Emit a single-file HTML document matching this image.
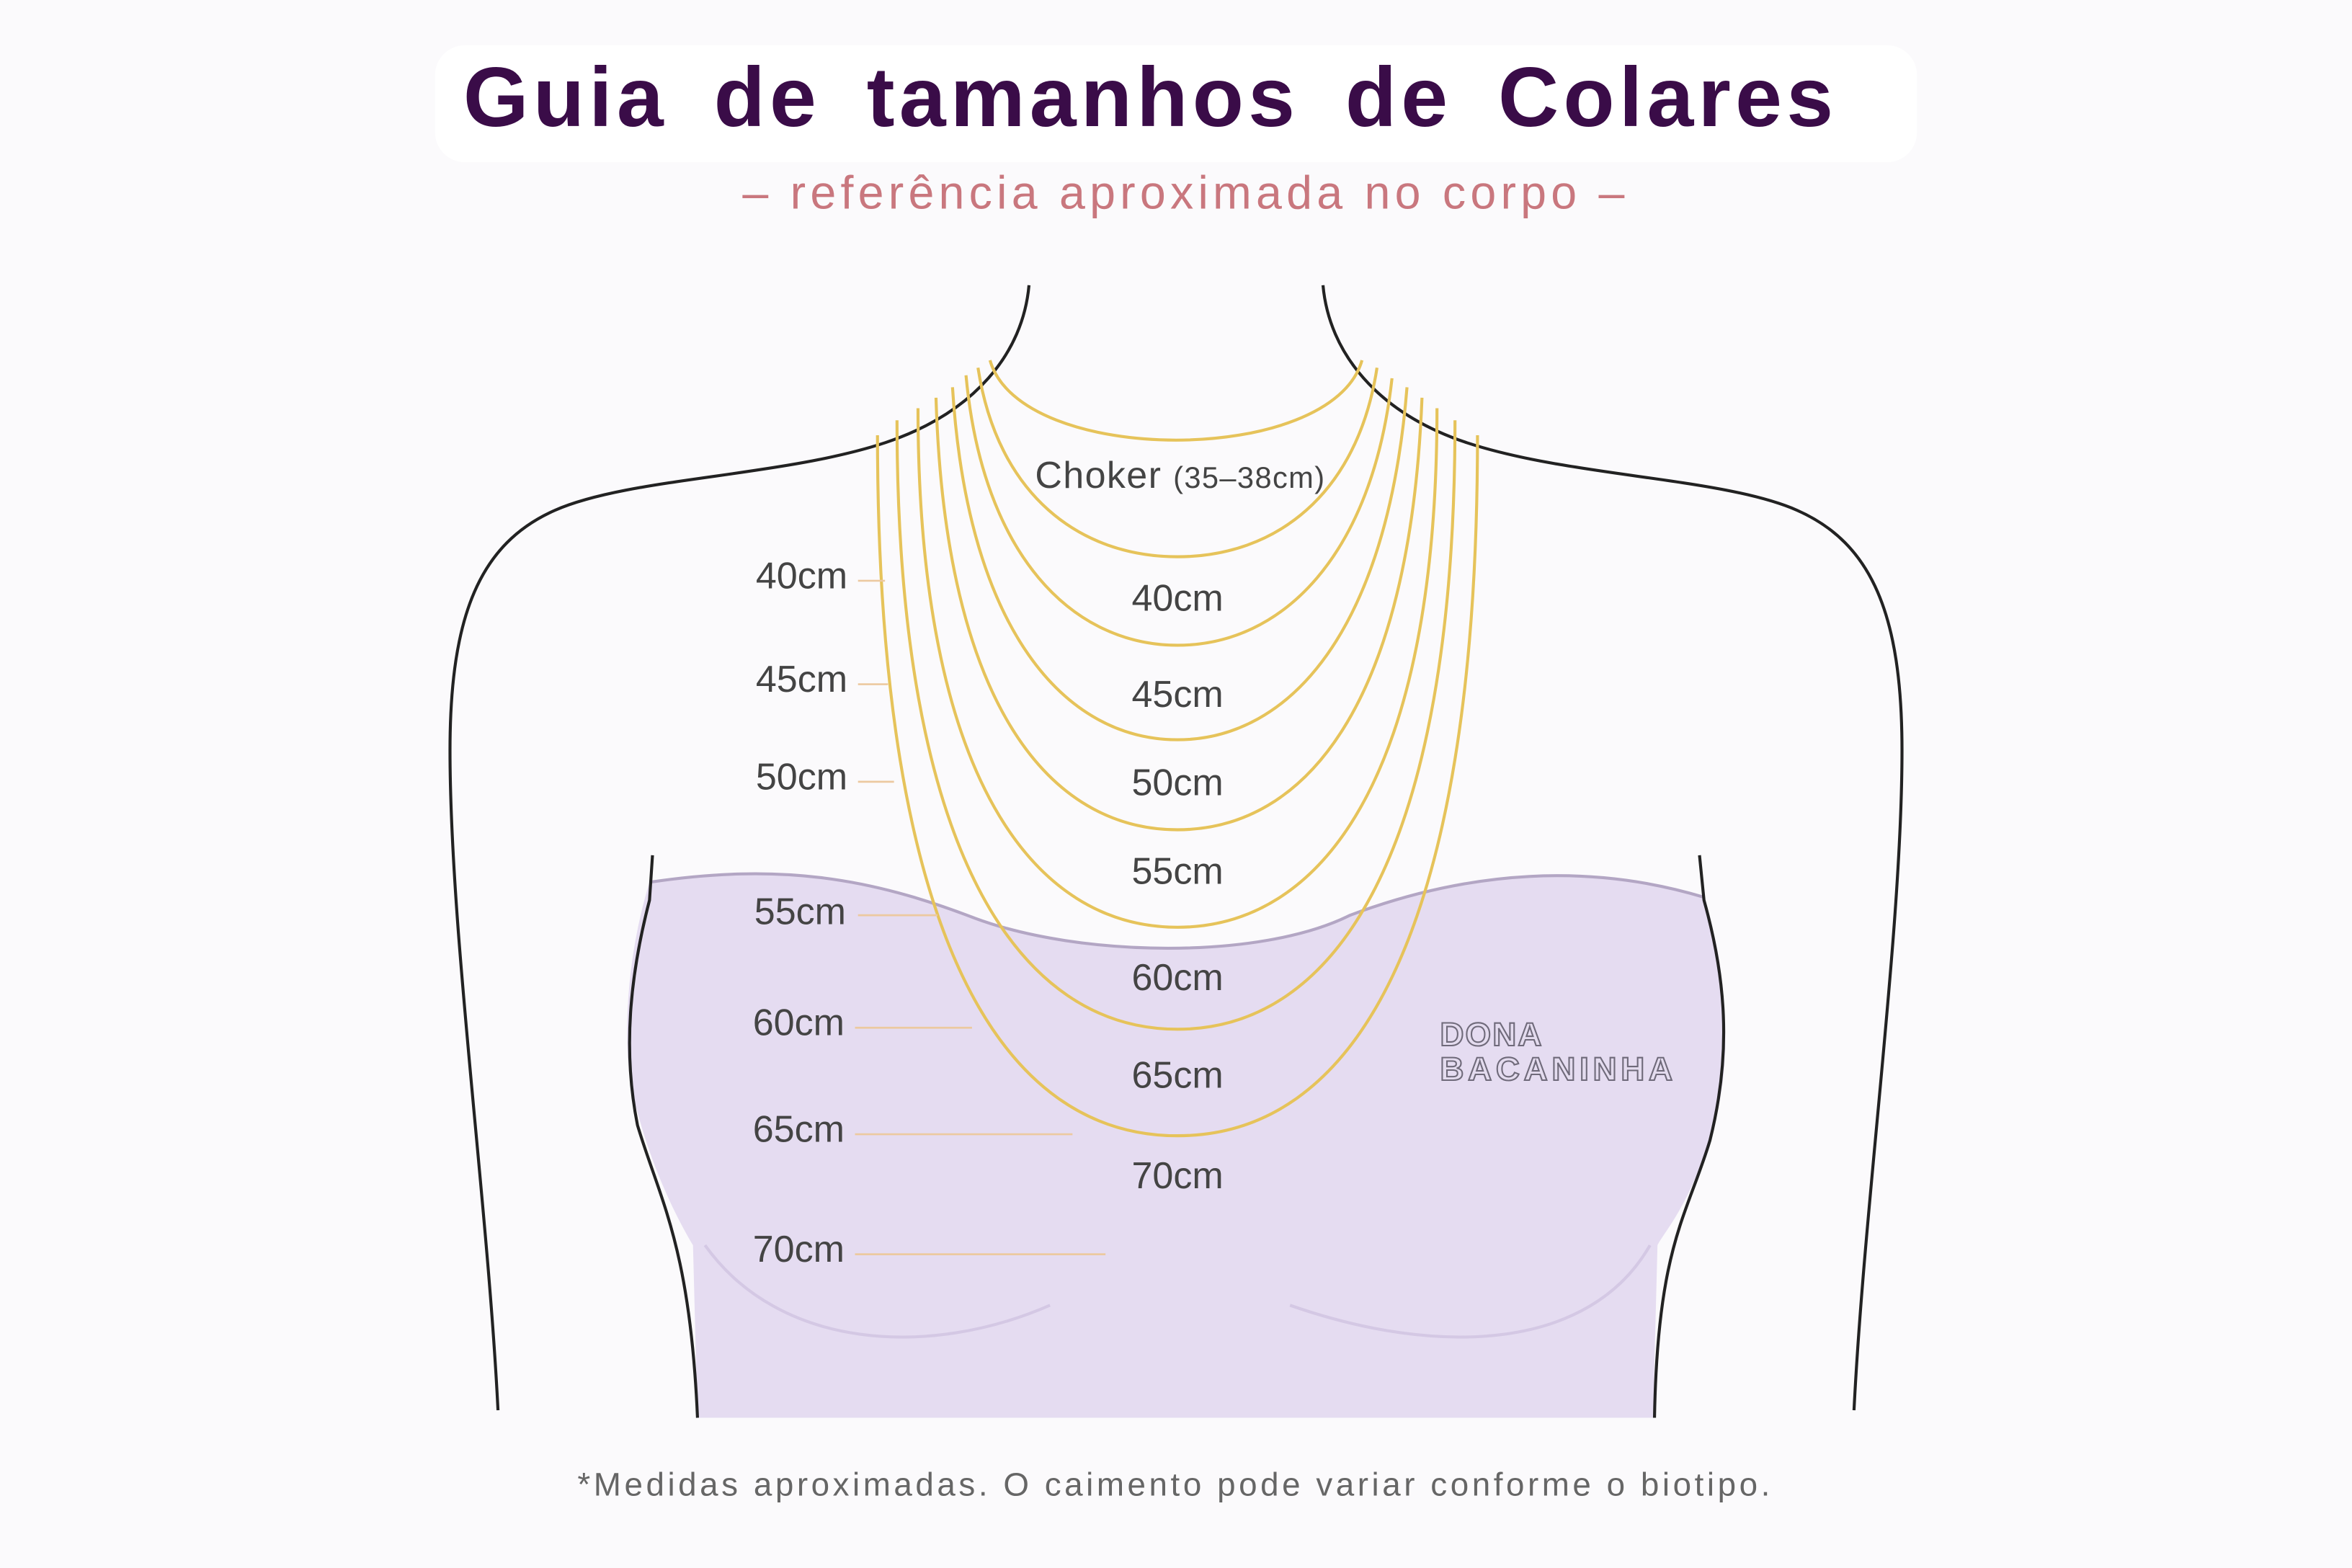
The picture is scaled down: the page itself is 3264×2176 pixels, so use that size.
<!DOCTYPE html>
<html><head><meta charset="utf-8"><style>
html,body{margin:0;padding:0;background:#fbfafc;}
svg{display:block;}
text{font-family:"Liberation Sans","DejaVu Sans",sans-serif;}
</style></head><body>
<svg width="3264" height="2176" viewBox="0 0 1568 1045" xmlns="http://www.w3.org/2000/svg">
<rect width="1568" height="1045" fill="#fbfafc"/>
<rect x="290" y="30" width="988" height="78" rx="20" fill="#ffffff"/>
<text x="767" y="84" text-anchor="middle" font-size="56" font-weight="bold" fill="#3a0c48" letter-spacing="3" word-spacing="12">Guia de tamanhos de Colares</text>
<text x="495" y="139" font-size="31" fill="#c9777e" textLength="588" lengthAdjust="spacing">– referência aproximada no corpo –</text>

<!-- lavender top -->
<path d="M433 588 C520 575 580 585 650 612 C720 638 840 640 900 610 C980 580 1060 575 1136 598 C1150 640 1155 700 1145 740 C1130 800 1110 820 1105 830 L1102 945 L465 945 L462 830 C450 810 430 770 420 720 C415 680 420 630 433 588 Z" fill="#e5dcf1"/>
<path d="M433 588 C520 575 580 585 650 612 C720 638 840 640 900 610 C980 580 1060 575 1136 598" fill="none" stroke="#b3a6c4" stroke-width="2"/>
<path d="M470 830 C520 900 620 905 700 870 M860 870 C960 905 1060 900 1100 830" fill="none" stroke="#d4c8e4" stroke-width="2"/>
<path d="M435 570 L433 600 C420 650 415 700 425 750 C440 800 460 830 465 945" fill="none" stroke="#222" stroke-width="2"/>
<path d="M1133 570 L1136 600 C1150 650 1155 700 1140 760 C1125 810 1105 830 1103 945" fill="none" stroke="#222" stroke-width="2"/>

<!-- body outline -->
<path d="M686 190 C682 235 650 275 590 295 C520 318 420 318 370 340 C320 362 300 410 300 500 C300 620 325 800 332 940" fill="none" stroke="#222" stroke-width="2"/>
<path d="M882 190 C886 235 918 275 978 295 C1048 318 1148 318 1198 340 C1248 362 1268 410 1268 500 C1268 620 1243 800 1236 940" fill="none" stroke="#222" stroke-width="2"/>

<!-- necklaces -->
<g fill="none" stroke="#e6c35a" stroke-width="2">
<path d="M660 240 C680 311 888 311 908 240"/>
<path d="M652 245 C665 330 720 371 785 371 C850 371 905 330 918 245"/>
<path d="M644 250 C655 370 715 430 785 430 C855 430 915 370 928 252"/>
<path d="M635 258 C645 420 710 493 785 493 C860 493 925 420 938 258"/>
<path d="M624 265 C630 470 700 553 785 553 C870 553 940 470 948 265"/>
<path d="M612 272 C612 520 690 618 785 618 C880 618 958 520 958 272"/>
<path d="M598 280 C598 570 680 686 785 686 C890 686 970 570 970 280"/>
<path d="M585 290 C585 630 670 757 785 757 C900 757 985 630 985 290"/>
</g>

<!-- ticks -->
<g stroke="#ecc9a0" stroke-width="1.3">
<line x1="572" y1="387" x2="590" y2="387"/>
<line x1="572" y1="456" x2="592" y2="456"/>
<line x1="572" y1="521" x2="596" y2="521"/>
<line x1="572" y1="610" x2="625" y2="610"/>
<line x1="570" y1="685" x2="648" y2="685"/>
<line x1="570" y1="756" x2="715" y2="756"/>
<line x1="570" y1="836" x2="737" y2="836"/>
</g>

<g font-size="25" fill="#444">
<text x="565" y="392" text-anchor="end">40cm</text>
<text x="565" y="461" text-anchor="end">45cm</text>
<text x="565" y="526" text-anchor="end">50cm</text>
<text x="564" y="616" text-anchor="end">55cm</text>
<text x="563" y="690" text-anchor="end">60cm</text>
<text x="563" y="761" text-anchor="end">65cm</text>
<text x="563" y="841" text-anchor="end">70cm</text>
<g text-anchor="middle">
<text x="785" y="407">40cm</text>
<text x="785" y="471">45cm</text>
<text x="785" y="530">50cm</text>
<text x="785" y="589">55cm</text>
<text x="785" y="660">60cm</text>
<text x="785" y="725">65cm</text>
<text x="785" y="792">70cm</text>
</g>
<text x="690" y="325" textLength="193" lengthAdjust="spacing">Choker <tspan font-size="20">(35–38cm)</tspan></text>
</g>

<g font-size="22" font-weight="bold" fill="#e4dcef" stroke="#6f6a7a" stroke-width="1" letter-spacing="1">
<text x="960" y="697">DONA</text>
<text x="960" y="720" textLength="156" lengthAdjust="spacing">BACANINHA</text>
</g>

<text x="385" y="997" font-size="22" fill="#666" textLength="795" lengthAdjust="spacing">*Medidas aproximadas. O caimento pode variar conforme o biotipo.</text>
</svg>
</body></html>
